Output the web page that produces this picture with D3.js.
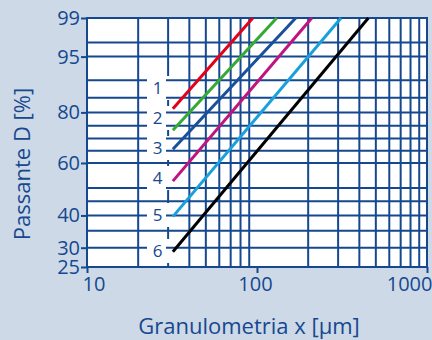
<!DOCTYPE html>
<html>
<head>
<meta charset="utf-8">
<script src="https://cdn.jsdelivr.net/npm/d3@7"></script>
<style>
  html, body { margin: 0; padding: 0; background: #cdd9e7; }
  svg { display: block; }
  text { font-family: "Open Sans", "Noto Sans", sans-serif; fill: #15488f; }
</style>
</head>
<body>
<div id="chart"></div>
<script>
///
/// Data
///
const seriesNames = ["1", "2", "3", "4", "5", "6"];
const seriesColors = ["#e2001a", "#36a935", "#1a4f9c", "#c0137f", "#18a0dd", "#000000"];
// each line: start (x in µm, D in %) and end at the 99 % border
const startX = [32, 32, 32, 32, 32, 32];
const startD = [81.3, 73.3, 65.6, 52.7, 39.6, 28.9];
const endX = [94.5, 130.6, 169, 210, 312, 452];
const endD = [99, 99, 99, 99, 99, 99];

const xTicks = [10, 100, 1000];
const yTicks = [25, 30, 40, 60, 80, 95, 99];
const xGrid = [20, 30, 40, 50, 60, 70, 80, 90, 200, 300, 400, 500, 600, 700, 800, 900];
const yGrid = [30, 35, 40, 45, 50, 60, 65, 70, 75, 80, 85, 90, 95, 97];

///
/// Layout
///
const W = 432, H = 340;
const pLeft = 87, pRight = 427, pTop = 18, pBottom = 267;
const navy = "#15488f";
const labelY = [88, 118, 148, 178, 215, 251];
const boxX0 = 147, boxX1 = 170, boxGapEnd = 166, boxHalf = 12;

const svg = d3.select("#chart").append("svg")
  .attr("width", W).attr("height", H);

// plot background
svg.append("rect")
  .attr("x", pLeft).attr("y", pTop)
  .attr("width", pRight - pLeft).attr("height", pBottom - pTop)
  .attr("fill", "#fff");

///
/// Scales
///
const x = d3.scaleLog().domain([10, 1000]).range([pLeft, pRight]);

// RRSB paper: ln(-ln(1 - D))
const rrsb = D => Math.log(-Math.log(1 - D / 100));
const yT = d3.scaleLinear().domain([rrsb(25), rrsb(99)]).range([pBottom, pTop]);
function makeY() {
  const f = D => yT(rrsb(D));
  f.copy = makeY;
  f.range = () => yT.range();
  f.domain = () => [25, 99];
  return f;
}
const y = makeY();

///
/// Grid
///
const grid = svg.append("g")
  .attr("stroke", navy).attr("stroke-width", 2);

grid.selectAll(".vg").data(xGrid).join("line")
  .attr("x1", d => x(d)).attr("x2", d => x(d))
  .attr("y1", pTop).attr("y2", pBottom);

// white boxes behind the curve numbers
svg.append("g").selectAll("rect").data(labelY).join("rect")
  .attr("x", boxX0).attr("width", boxX1 - boxX0)
  .attr("y", d => d - boxHalf).attr("height", boxHalf * 2)
  .attr("fill", "#fff");

const hg = svg.append("g")
  .attr("stroke", navy).attr("stroke-width", 2);

yGrid.forEach(v => {
  const py = y(v);
  const hit = labelY.some(l => Math.abs(l - py) <= boxHalf);
  if (hit) {
    hg.append("line").attr("x1", pLeft).attr("x2", boxX0).attr("y1", py).attr("y2", py);
    hg.append("line").attr("x1", boxGapEnd).attr("x2", pRight).attr("y1", py).attr("y2", py);
  } else {
    hg.append("line").attr("x1", pLeft).attr("x2", pRight).attr("y1", py).attr("y2", py);
  }
});

// border
svg.append("rect")
  .attr("x", pLeft).attr("y", pTop)
  .attr("width", pRight - pLeft).attr("height", pBottom - pTop)
  .attr("fill", "none").attr("stroke", navy).attr("stroke-width", 2);

///
/// Axes
///
const yAxis = svg.append("g")
  .attr("transform", `translate(${pLeft},0)`)
  .call(d3.axisLeft(y).tickValues(yTicks).tickSize(6).tickPadding(1).tickFormat(d3.format("d")));
yAxis.select(".domain").remove();
yAxis.selectAll("line").attr("stroke", navy).attr("stroke-width", 2);
yAxis.selectAll("text").attr("font-size", 20).attr("fill", navy);

const xAxis = svg.append("g")
  .attr("transform", `translate(0,${pBottom})`)
  .call(d3.axisBottom(x).tickValues(xTicks).tickSize(6).tickPadding(4).tickFormat(d3.format("d")));
xAxis.select(".domain").remove();
xAxis.selectAll("line").attr("stroke", navy).attr("stroke-width", 2);
xAxis.selectAll("text").attr("font-size", 20).attr("fill", navy)
  .attr("text-anchor", (d, i) => i == 0 ? "start" : (i == xTicks.length - 1 ? "end" : "middle"))
  .attr("dx", (d, i) => i == 0 ? -5 : (i == xTicks.length - 1 ? 5 : -2));

///
/// Series
///
const line = d3.line().x(d => x(d[0])).y(d => y(d[1]));
svg.append("g").selectAll("path").data(seriesNames).join("path")
  .attr("d", (d, i) => line([[startX[i], startD[i]], [endX[i], endD[i]]]))
  .attr("fill", "none")
  .attr("stroke", (d, i) => seriesColors[i])
  .attr("stroke-width", 3);

svg.append("g").selectAll("text").data(seriesNames).join("text")
  .attr("x", (boxX0 + boxGapEnd) / 2 + 1)
  .attr("y", (d, i) => labelY[i])
  .attr("dy", "0.36em")
  .attr("text-anchor", "middle")
  .attr("font-size", 17)
  .text(d => d);

///
/// Titles
///
svg.append("text")
  .attr("x", 249).attr("y", 334)
  .attr("text-anchor", "middle")
  .attr("font-size", 22)
  .text("Granulometria x [µm]");

svg.append("text")
  .attr("transform", "translate(30,164) rotate(-90)")
  .attr("text-anchor", "middle")
  .attr("font-size", 22)
  .text("Passante D [%]");
</script>
</body>
</html>
